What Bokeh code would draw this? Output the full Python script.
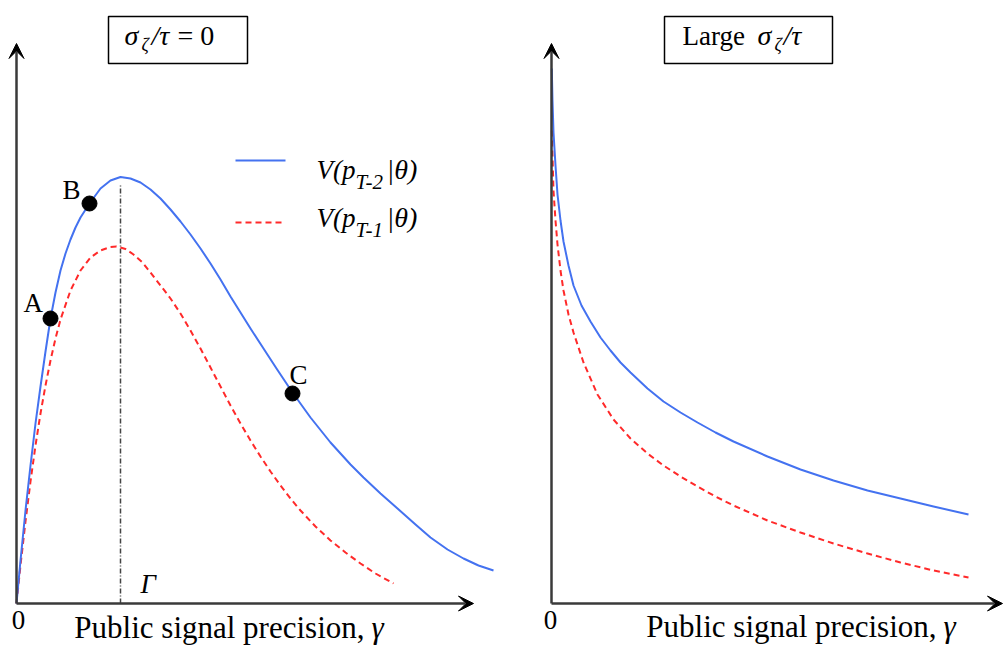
from bokeh.plotting import figure
from bokeh.models import Range1d, Label, Arrow, VeeHead, BoxAnnotation
from bokeh.layouts import row
from bokeh.embed import file_html
from bokeh.resources import INLINE

# ---------------- data (gamma = public signal precision, V = value, arbitrary units) ----------------
# Left panel: sigma_zeta / tau = 0
left_blue_gamma = [0, .04, .09, .14, .19, .24, .29, .34, .39, .44, .49, .54, .59, .64, .73, .84,
                   .94, 1.04, 1.14, 1.24, 1.34, 1.44, 1.54, 1.64, 1.74, 1.84, 1.94, 2.04, 2.14,
                   2.24, 2.34, 2.47, 2.60, 2.76, 2.94, 3.14, 3.34, 3.47, 3.64, 3.81, 3.99, 4.14,
                   4.31, 4.47, 4.62, 4.77]
left_blue_V = [0, .43, .93, 1.38, 1.80, 2.17, 2.52, 2.85, 3.11, 3.33, 3.50, 3.64, 3.76, 3.86,
               4.00, 4.15, 4.23, 4.265, 4.25, 4.21, 4.14, 4.05, 3.94, 3.82, 3.69, 3.55, 3.40,
               3.24, 3.07, 2.91, 2.75, 2.55, 2.35, 2.11, 1.86, 1.61, 1.39, 1.26, 1.10, 0.95,
               0.79, 0.66, 0.54, 0.45, 0.38, 0.33]
left_red_gamma = [0, .04, .09, .14, .19, .24, .29, .34, .39, .44, .54, .64, .74, .84, .94, 1.00,
                  1.09, 1.17, 1.26, 1.34, 1.44, 1.54, 1.64, 1.74, 1.84, 1.94, 2.04, 2.14, 2.24,
                  2.34, 2.44, 2.54, 2.64, 2.74, 2.84, 2.99, 3.14, 3.29, 3.44, 3.59, 3.77]
left_red_V = [0, .38, .82, 1.22, 1.58, 1.90, 2.18, 2.43, 2.65, 2.84, 3.13, 3.33, 3.46, 3.53,
              3.565, 3.57, 3.545, 3.49, 3.41, 3.31, 3.18, 3.05, 2.90, 2.73, 2.55, 2.36, 2.17,
              1.98, 1.80, 1.63, 1.47, 1.32, 1.18, 1.05, 0.93, 0.77, 0.63, 0.51, 0.40, 0.30, 0.20]
point_gamma = [0.34, 0.73, 2.76]
point_V = [2.85, 4.00, 2.10]
point_names = ["A", "B", "C"]
Gamma_value = 1.04
Gamma_line_V = [0.0, 4.20]

# Right panel: large sigma_zeta / tau
right_blue_gamma = [.003, .01, .02, .04, .06, .09, .12, .17, .22, .30, .39, .49, .59, .69, .79,
                    .96, 1.12, 1.29, 1.46, 1.64, 1.82, 2.16, 2.49, 2.82, 3.16, 3.49, 3.82, 4.17]
right_blue_V = [5.35, 5.03, 4.71, 4.38, 4.09, 3.83, 3.62, 3.38, 3.18, 2.98, 2.82, 2.66, 2.53,
                2.41, 2.31, 2.15, 2.02, 1.91, 1.81, 1.71, 1.62, 1.47, 1.34, 1.23, 1.13, 1.05,
                0.97, 0.89]
right_red_gamma = [.003, .02, .04, .06, .09, .12, .17, .22, .32, .46, .62, .79, .96, 1.12, 1.29,
                   1.46, 1.64, 1.82, 2.16, 2.49, 2.82, 3.16, 3.49, 3.82, 4.17]
right_red_V = [4.73, 4.13, 3.83, 3.59, 3.33, 3.13, 2.89, 2.71, 2.41, 2.09, 1.84, 1.65, 1.50,
               1.38, 1.27, 1.17, 1.07, 0.98, 0.83, 0.71, 0.60, 0.50, 0.41, 0.33, 0.26]

legend_labels = [("V(p", "T-2", "|θ)"), ("V(p", "T-1", "|θ)")]
x_label = "Public signal precision,"

# ---------------- layout / style ----------------
PX = 100.0     # pixels per data unit (both axes)
ORG_Y = 603    # page y of the origin
H = 646
TEXT_SHIFT = 9
BLUE = "#4472F0"
RED = "#FF2A2A"
AXC = "#3A3A3A"
FONT = "Liberation Serif"


def make_panel(width, img_left, org_x):
    p = figure(width=width, height=H, output_backend="svg", toolbar_location=None,
               x_range=Range1d((img_left - org_x) / PX, (img_left + width - org_x) / PX),
               y_range=Range1d((ORG_Y - H) / PX, ORG_Y / PX),
               min_border=0, min_border_left=0, min_border_right=0,
               min_border_top=0, min_border_bottom=0)
    p.axis.visible = False
    p.grid.visible = False
    p.outline_line_color = None
    p.background_fill_color = "white"
    p.border_fill_color = "white"
    return p


def pos(ix, iy, org_x):
    return (ix - org_x) / PX, (ORG_Y - iy) / PX


def label(p, org_x, ix, iy, text, size=27, italic=False, align="left"):
    x, y = pos(ix, iy - TEXT_SHIFT, org_x)
    p.add_layout(Label(x=x, y=y, text=text, text_font=FONT,
                       text_font_size=f"{size}px",
                       text_font_style="italic" if italic else "normal",
                       text_align=align, text_baseline="alphabetic",
                       text_color="black"))


def axes(p, org_x, x_tip_img):
    xt, _ = pos(x_tip_img, ORG_Y, org_x)
    _, yt = pos(org_x, 43, org_x)
    p.add_layout(Arrow(end=VeeHead(size=15, fill_color="black", line_color="black"),
                       x_start=0, y_start=0, x_end=xt, y_end=0,
                       line_color=AXC, line_width=2.5))
    p.add_layout(Arrow(end=VeeHead(size=15, fill_color="black", line_color="black"),
                       x_start=0, y_start=0, x_end=0, y_end=yt,
                       line_color=AXC, line_width=2.5))


def title_box(p, org_x, l, r, t, b):
    x0, y0 = pos(l, b, org_x)
    x1, y1 = pos(r, t, org_x)
    p.add_layout(BoxAnnotation(left=x0, right=x1, bottom=y0, top=y1,
                               fill_color="white", fill_alpha=1.0,
                               line_color="black", line_width=1.5, line_alpha=1.0))


# ---------------- left panel ----------------
OXL = 16
pL = make_panel(508, 0, OXL)
axes(pL, OXL, 473)
pL.line([Gamma_value, Gamma_value], Gamma_line_V, line_color="#444444",
        line_width=1.5, line_dash="5 2 1 2")
pL.line(left_red_gamma, left_red_V, line_color=RED, line_width=2, line_dash="6 4",
        line_join="round")
pL.line(left_blue_gamma, left_blue_V, line_color=BLUE, line_width=2, line_join="round")
pL.scatter(point_gamma, point_V, size=15, color="black")

for (ix, iy), name in zip([(23, 311), (62, 198), (289, 383)], point_names):
    label(pL, OXL, ix, iy, name, size=27)

label(pL, OXL, 140, 592, "Γ", size=27, italic=True)
label(pL, OXL, 18, 628, "0", size=27, align="center")
label(pL, OXL, 364, 636, x_label, size=31, align="right")
label(pL, OXL, 371, 636, "γ", size=31, italic=True)

# title box
title_box(pL, OXL, 108, 247, 16, 63)
label(pL, OXL, 124, 44, "σ", size=28, italic=True)
label(pL, OXL, 141, 53, "ζ", size=18, italic=True)
label(pL, OXL, 151, 44, "/τ", size=28, italic=True)
label(pL, OXL, 177, 44, "= 0", size=28)

# legend
lx0, ly_b = pos(235, 160, OXL)
lx1, ly_r = pos(285, 222, OXL)
pL.line([lx0, lx1], [ly_b, ly_b], line_color=BLUE, line_width=2)
pL.line([lx0, lx1], [ly_r, ly_r], line_color=RED, line_width=2, line_dash="6 4")
for (main, sub, tail), base in zip(legend_labels, [178, 226]):
    label(pL, OXL, 316, base, main, size=27, italic=True)
    label(pL, OXL, 355, base + 12, sub, size=21, italic=True)
    label(pL, OXL, 386, base, tail, size=28, italic=True)

# ---------------- right panel ----------------
OXR = 551
pR = make_panel(496, 508, OXR)
axes(pR, OXR, 1002)
pR.line(right_red_gamma, right_red_V, line_color=RED, line_width=2, line_dash="6 4",
        line_join="round")
pR.line(right_blue_gamma, right_blue_V, line_color=BLUE, line_width=2, line_join="round")

label(pR, OXR, 550, 628, "0", size=27, align="center")
label(pR, OXR, 936, 635, x_label, size=31, align="right")
label(pR, OXR, 943, 635, "γ", size=31, italic=True)

title_box(pR, OXR, 664, 832, 16, 63)
label(pR, OXR, 682, 44, "Large", size=27)
label(pR, OXR, 757, 44, "σ", size=28, italic=True)
label(pR, OXR, 774, 53, "ζ", size=18, italic=True)
label(pR, OXR, 783, 44, "/τ", size=28, italic=True)

layout = row(pL, pR, spacing=0)
open("out.html", "w").write(file_html(layout, INLINE))
